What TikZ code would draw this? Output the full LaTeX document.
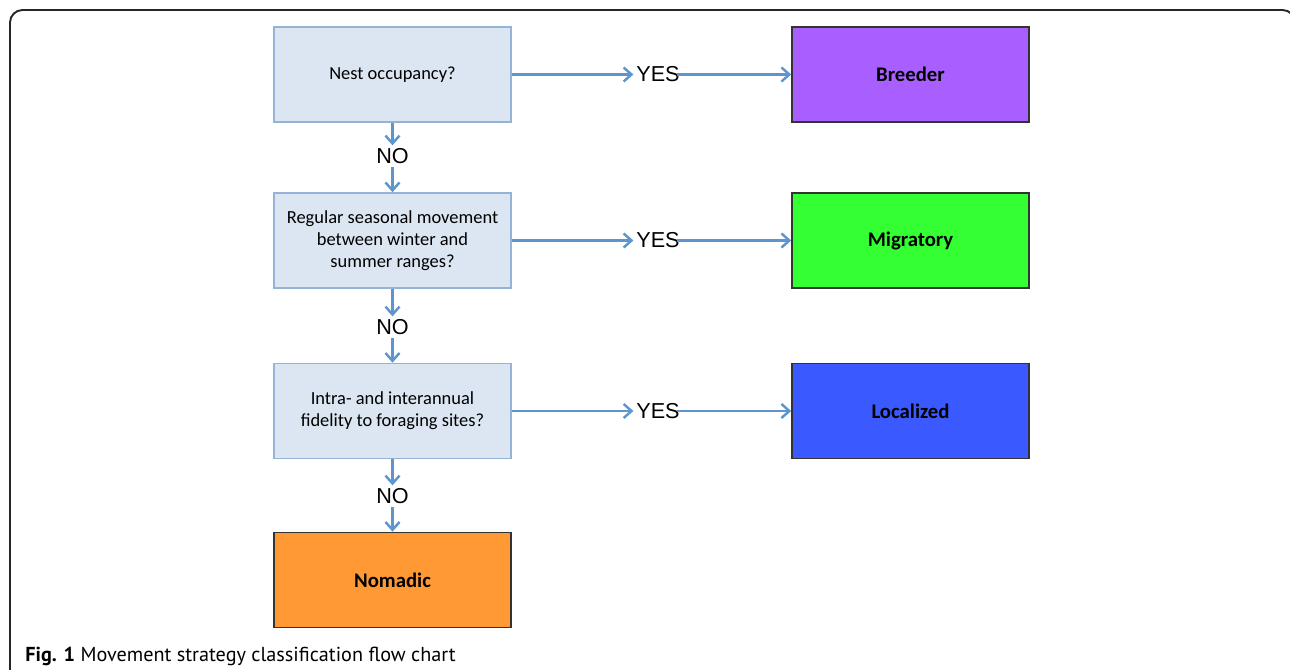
\documentclass[tikz,border=0pt]{standalone}
\usepackage{fontspec}
\setmainfont{Carlito}
\newfontfamily\arialfont{Liberation Sans}
\newfontfamily\capfont{PT Sans}
\usetikzlibrary{arrows.meta}
\definecolor{qfill}{HTML}{DCE6F2}
\definecolor{qline}{HTML}{95B3D7}
\definecolor{flow}{HTML}{5F95CF}
\definecolor{breedcol}{HTML}{A95EFF}
\definecolor{migrcol}{HTML}{33FF33}
\definecolor{localcol}{HTML}{3A5AFF}
\definecolor{nomadcol}{HTML}{FF9933}
\tikzset{
  question/.style={draw=qline, fill=qfill, line width=0.9pt, minimum width=4.74cm,
    minimum height=1.9cm, align=center, font=\fontsize{10.5}{12.5}\selectfont},
  outcome/.style={draw=black!80, line width=0.9pt, minimum width=4.74cm,
    minimum height=1.9cm, font=\fontsize{11.8}{14}\selectfont\bfseries},
  answer/.style={inner sep=1.5pt, font=\arialfont\fontsize{12.3}{14}\selectfont},
  flowline/.style={draw=flow, line width=1.4pt, -{Straight Barb[length=4.5pt,width=8pt]}}
}
\begin{document}
\begin{tikzpicture}
    \useasboundingbox (0,0) rectangle (25.8,-13.4);
    % frame of the figure
    \begin{scope}
        \clip (0,0) rectangle (25.8,-13.4);
        \draw[line width=1.1pt, black!85, rounded corners=0.25cm] (0.2,-13.8) -- (0.2,-0.2) -- (25.9,-0.2) -- (25.9,-13.8);
    \end{scope}
    % questions
    \node[question] (q1) at (7.85,-1.49) {Nest occupancy?};
    \node[question] (q2) at (7.85,-4.81) {Regular seasonal movement\\between winter and\\summer ranges?};
    \node[question] (q3) at (7.85,-8.22) {Intra- and interannual\\fidelity to foraging sites?};
    % outcomes
    \node[outcome, fill=breedcol] (breeder) at (18.21,-1.49) {Breeder};
    \node[outcome, fill=migrcol] (migratory) at (18.21,-4.81) {Migratory};
    \node[outcome, fill=localcol] (localized) at (18.21,-8.22) {Localized};
    \node[outcome, fill=nomadcol] (nomadic) at (7.85,-11.6) {Nomadic};
    % answers
    \node[answer] (yes1) at (13.16,-1.49) {YES};
    \node[answer] (yes2) at (13.16,-4.81) {YES};
    \node[answer] (yes3) at (13.16,-8.22) {YES};
    \node[answer] (no1) at (7.85,-3.12) {NO};
    \node[answer] (no2) at (7.85,-6.54) {NO};
    \node[answer] (no3) at (7.85,-9.92) {NO};
    % connectors
    \draw[flowline] (q1) -- (yes1);
    \draw[flowline, shorten <=-3pt] (yes1) -- (breeder);
    \draw[flowline] (q2) -- (yes2);
    \draw[flowline, shorten <=-3pt] (yes2) -- (migratory);
    \draw[flowline] (q3) -- (yes3);
    \draw[flowline, shorten <=-3pt] (yes3) -- (localized);
    \draw[flowline] (q1) -- (no1);
    \draw[flowline] (no1) -- (q2);
    \draw[flowline] (q2) -- (no2);
    \draw[flowline] (no2) -- (q3);
    \draw[flowline] (q3) -- (no3);
    \draw[flowline] (no3) -- (nomadic);
    % caption
    \node[anchor=base west, inner sep=0pt, font=\capfont\fontsize{11.5}{13}\selectfont] (caption) at (0.5,-13.22)
        {\textbf{Fig. 1} Movement strategy classification flow chart};
\end{tikzpicture}
\end{document}
